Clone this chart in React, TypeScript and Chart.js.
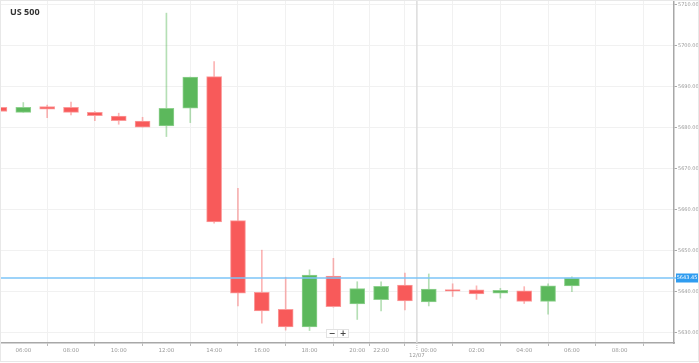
import React, { useEffect, useRef } from "react";
import { Chart, registerables } from "chart.js";

Chart.register(...registerables);

// Hourly candles (slot index 0 = 05:00 on 12/06, 21:00 is skipped)
const candleTimes = ["05:00","06:00","07:00","08:00","09:00","10:00","11:00","12:00","13:00","14:00","15:00","16:00","17:00","18:00","19:00","20:00","22:00","23:00","00:00","01:00","02:00","03:00","04:00","05:00","06:00"];
const openV  = [5685.0, 5683.8, 5685.2, 5685.0, 5683.8, 5682.9, 5681.7, 5680.5, 5684.8, 5692.5, 5657.4, 5639.9, 5635.8, 5631.5, 5643.9, 5637.1, 5638.1, 5641.7, 5637.6, 5640.5, 5640.5, 5639.7, 5640.3, 5637.7, 5641.5];
const closeV = [5684.0, 5685.05, 5684.6, 5683.8, 5683.0, 5681.8, 5680.2, 5684.8, 5692.4, 5657.1, 5639.7, 5635.4, 5631.5, 5644.1, 5636.4, 5640.8, 5641.4, 5637.8, 5640.7, 5640.2, 5639.5, 5640.4, 5637.7, 5641.5, 5643.4];
const highV  = [5685.1, 5686.2, 5685.6, 5686.3, 5684.0, 5683.6, 5682.6, 5708.0, 5692.4, 5696.2, 5665.3, 5650.2, 5643.6, 5645.4, 5648.2, 5642.5, 5642.5, 5644.6, 5644.4, 5642.0, 5641.5, 5640.9, 5641.3, 5642.0, 5643.7];
const lowV   = [5683.9, 5683.8, 5682.5, 5683.2, 5681.8, 5680.9, 5680.2, 5677.9, 5681.3, 5656.75, 5636.6, 5632.4, 5630.7, 5630.6, 5636.3, 5633.3, 5635.4, 5635.6, 5636.6, 5638.9, 5638.2, 5638.5, 5637.2, 5634.6, 5640.1];

// Axis ticks
const xTickSlots = [1, 3, 5, 7, 9, 11, 13, 15, 16, 18, 20, 22, 24, 26];
const xTickLabels = ["06:00","08:00","10:00","12:00","14:00","16:00","18:00","20:00","22:00","00:00","02:00","04:00","06:00","08:00"];
const yTickValues = [5630, 5640, 5650, 5660, 5670, 5680, 5690, 5700, 5710];
const dayBreakSlot = 17.5;
const dayBreakLabel = "12/07";
const currentPrice = 5643.45;
const chartTitle = "US 500";

const GREEN = "#5cb85c";
const RED = "#f85a5a";
const GREEN_WICK = "rgba(92,184,92,0.45)";
const RED_WICK = "rgba(248,90,90,0.45)";

export default function App() {
  const ref = useRef<HTMLCanvasElement | null>(null);

  useEffect(() => {
    document.body.style.margin = "0";
    const canvas = ref.current;
    if (!canvas) return;

    const isUp = openV.map((o, i) => closeV[i] >= o);
    const bodies = openV.map((o, i) => ({ x: i, y: [o, closeV[i]] }));
    const wicks = openV.map((_, i) => ({ x: i, y: [lowV[i], highV[i]] }));

    const overlay = {
      id: "overlay",
      beforeDatasetsDraw(chart: any) {
        const { ctx, chartArea, scales } = chart;
        const x = scales.x.getPixelForValue(dayBreakSlot);
        ctx.save();
        ctx.strokeStyle = "#dcdcdc";
        ctx.lineWidth = 1.5;
        ctx.beginPath();
        ctx.moveTo(x, chartArea.top);
        ctx.lineTo(x, chartArea.bottom);
        ctx.stroke();
        ctx.restore();
      },
      afterDatasetsDraw(chart: any) {
        const { ctx, chartArea, scales } = chart;
        ctx.save();
        // current price line
        const py = Math.round(scales.y.getPixelForValue(currentPrice));
        ctx.strokeStyle = "#7cc4f7";
        ctx.lineWidth = 1.5;
        ctx.beginPath();
        ctx.moveTo(chartArea.left, py);
        ctx.lineTo(chartArea.right + 2, py);
        ctx.stroke();
        ctx.fillStyle = "#2f9cf0";
        ctx.fillRect(chartArea.right + 2, py - 4.5, 22, 9);
        ctx.fillStyle = "#ffffff";
        ctx.font = "5px 'DejaVu Sans'";
        ctx.textAlign = "center";
        ctx.textBaseline = "middle";
        ctx.fillText(currentPrice.toFixed(2), chartArea.right + 13, py);

        // title
        ctx.fillStyle = "#333333";
        ctx.font = "bold 9px 'Open Sans'";
        ctx.textAlign = "left";
        ctx.textBaseline = "alphabetic";
        ctx.fillText(chartTitle, 10, 15);

        // zoom buttons
        const bx = 326, by = 329;
        ctx.fillStyle = "#ffffff";
        ctx.strokeStyle = "#e2e2e2";
        ctx.lineWidth = 1;
        ctx.fillRect(bx, by, 23, 9);
        ctx.strokeRect(bx + 0.5, by + 0.5, 11, 8);
        ctx.strokeRect(bx + 11.5, by + 0.5, 11, 8);
        ctx.fillStyle = "#444444";
        ctx.font = "bold 8px 'DejaVu Sans'";
        ctx.textAlign = "center";
        ctx.textBaseline = "middle";
        ctx.fillText("−", bx + 6, by + 4.5);
        ctx.fillText("+", bx + 17, by + 4.5);

        // day break label
        const dx = scales.x.getPixelForValue(dayBreakSlot);
        ctx.strokeStyle = "#bbbbbb";
        ctx.setLineDash([1, 1]);
        ctx.beginPath();
        ctx.moveTo(dx, chartArea.bottom);
        ctx.lineTo(dx, chartArea.bottom + 7);
        ctx.stroke();
        ctx.setLineDash([]);
        ctx.fillStyle = "#999999";
        ctx.font = "5.5px 'DejaVu Sans'";
        ctx.fillText(dayBreakLabel, dx, chartArea.bottom + 13);

        // outer frame
        ctx.strokeStyle = "#e8e8e8";
        ctx.lineWidth = 1;
        ctx.strokeRect(0.5, 0.5, 698, 361);
        ctx.restore();
      },
    };

    const chart = new Chart(canvas, {
      type: "bar",
      data: {
        datasets: [
          {
            label: "wick",
            data: wicks as any,
            backgroundColor: isUp.map((u) => (u ? GREEN_WICK : RED_WICK)),
            barThickness: 1,
            order: 2,
            grouped: false,
          } as any,
          {
            label: "body",
            data: bodies as any,
            backgroundColor: isUp.map((u) => (u ? GREEN : RED)),
            borderColor: isUp.map((u) => (u ? "#8fd18f" : "#fb9a9a")),
            borderWidth: 1,
            borderSkipped: false,
            barThickness: 15,
            minBarLength: 1.5,
            order: 1,
            grouped: false,
          } as any,
        ],
      },
      options: {
        responsive: false,
        animation: false,
        devicePixelRatio: 1,
        layout: { padding: { left: 0, top: 0, right: 0, bottom: 0 } },
        plugins: {
          legend: { display: false },
          tooltip: { enabled: false },
          title: { display: false },
        },
        scales: {
          x: {
            type: "linear",
            min: 0.023,
            max: 28.28,
            offset: false,
            afterBuildTicks: (scale: any) => {
              scale.ticks = xTickSlots.map((v) => ({ value: v }));
            },
            afterFit: (scale: any) => {
              scale.height = 20;
            },
            ticks: {
              autoSkip: false,
              maxRotation: 0,
              padding: 1,
              color: "#999999",
              font: { size: 5.5, family: "DejaVu Sans" },
              callback: (v: any) => {
                const k = xTickSlots.indexOf(Number(v));
                return k >= 0 ? xTickLabels[k] : "";
              },
            },
            grid: {
              color: "#f1f1f1",
              lineWidth: 1,
              tickLength: 3,
              tickColor: "#bbbbbb",
            },
            border: { color: "#a8a8a8", width: 1.5 },
          },
          y: {
            type: "linear",
            position: "right",
            min: 5627.56,
            max: 5711.2,
            afterBuildTicks: (scale: any) => {
              scale.ticks = yTickValues.map((v) => ({ value: v }));
            },
            afterFit: (scale: any) => {
              scale.width = 25;
              scale.paddingTop = 0;
              scale.paddingBottom = 0;
            },
            ticks: {
              padding: 1,
              color: "#999999",
              font: { size: 5, family: "DejaVu Sans", lineHeight: 0.1 },
              callback: (v: any) => Number(v).toFixed(2),
            },
            grid: {
              color: "#f1f1f1",
              lineWidth: 1,
              tickLength: 3,
              tickColor: "#aaaaaa",
            },
            border: { color: "#a8a8a8", width: 1.5 },
          },
        },
      } as any,
      plugins: [overlay],
    });

    return () => chart.destroy();
  }, []);

  return (
    <div style={{ position: "fixed", left: 0, top: 0, width: 699, height: 363, background: "#fff" }}>
      <canvas ref={ref} width={699} height={363} style={{ display: "block" }} />
    </div>
  );
}
